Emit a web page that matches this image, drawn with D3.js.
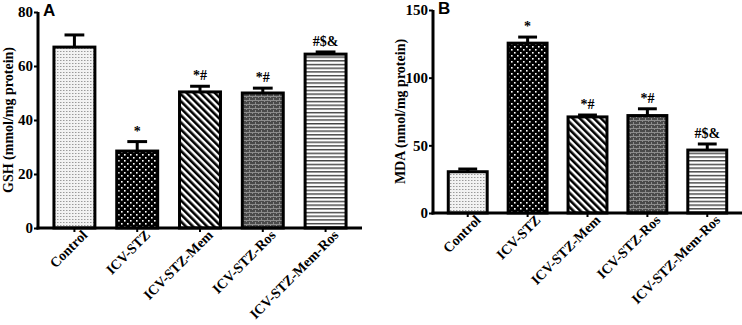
<!DOCTYPE html>
<html>
<head>
<meta charset="utf-8">
<script src="https://cdn.jsdelivr.net/npm/d3@7"></script>
<style>
  body { margin: 0; background: #fff; }
  svg { display: block; }
  text { font-family: "Liberation Serif", "Times New Roman", serif; font-weight: bold; }
</style>
</head>
<body>
<svg id="chart" width="742" height="325"></svg>
<script>
// groups and values
var groups = ["Control", "ICV-STZ", "ICV-STZ-Mem", "ICV-STZ-Ros", "ICV-STZ-Mem-Ros"];
var gshMean = [67, 28.5, 50.4, 50, 64.4];
var gshErr = [4.5, 3.5, 2.1, 1.8, 0.8];
var gshSig = ["", "*", "*#", "*#", "#$&"];
var mdaMean = [30.5, 125.5, 71, 72, 46.5];
var mdaErr = [2, 4.5, 1.4, 5, 4.5];
var mdaSig = ["", "*", "*#", "*#", "#$&"];
var gshTicks = [0, 20, 40, 60, 80];
var mdaTicks = [0, 50, 100, 150];

var svg = d3.select("#chart");
var defs = svg.append("defs");

// fill patterns, one per group
function pat(id, w, h) {
    return defs.append("pattern").attr("id", id)
        .attr("patternUnits", "userSpaceOnUse")
        .attr("width", w).attr("height", h);
}
var p0 = pat("p0", 3, 3);
p0.append("rect").attr("width", 3).attr("height", 3).attr("fill", "#f2f2f2");
p0.append("rect").attr("width", 1).attr("height", 1).attr("fill", "#9a9a9a");
p0.append("rect").attr("x", 1).attr("width", 1).attr("height", 1).attr("fill", "#c8c8c8");

var p1 = pat("p1", 6, 6);
p1.append("rect").attr("width", 6).attr("height", 6).attr("fill", "#000");
p1.append("rect").attr("x", 1).attr("y", 1).attr("width", 1.6).attr("height", 1.6).attr("fill", "#fff");
p1.append("rect").attr("x", 4).attr("y", 4).attr("width", 1.6).attr("height", 1.6).attr("fill", "#fff");

var p2 = pat("p2", 5, 5).attr("patternTransform", "rotate(-45)");
p2.append("rect").attr("width", 5).attr("height", 5).attr("fill", "#fff");
p2.append("rect").attr("width", 2.6).attr("height", 5).attr("fill", "#000");

var p3 = pat("p3", 6, 4);
p3.append("rect").attr("width", 6).attr("height", 4).attr("fill", "#4a4a4a");
p3.append("rect").attr("y", 0).attr("width", 6).attr("height", 1).attr("fill", "#8c8c8c");
p3.append("rect").attr("x", 0).attr("width", 1).attr("height", 2).attr("fill", "#8c8c8c");
p3.append("rect").attr("x", 3).attr("y", 2).attr("width", 1).attr("height", 2).attr("fill", "#8c8c8c");

var p4 = pat("p4", 4, 3.7);
p4.append("rect").attr("width", 4).attr("height", 3.7).attr("fill", "#fff");
p4.append("rect").attr("y", 1).attr("width", 4).attr("height", 1.3).attr("fill", "#333");

var fills = ["url(#p0)", "url(#p1)", "url(#p2)", "url(#p3)", "url(#p4)"];

function panel(opt) {
    var g = svg.append("g");
    var y = d3.scaleLinear().domain([0, opt.max]).range([opt.bottom, opt.top]);
    var x = d3.scaleBand().domain(groups).range([opt.left, opt.right])
        .paddingInner(0.3).paddingOuter(0.23);

    // bars
    g.selectAll("rect.bar").data(groups).enter().append("rect")
        .attr("class", "bar")
        .attr("x", function (d) { return x(d) + 1.5; })
        .attr("width", x.bandwidth() - 3)
        .attr("y", function (d, i) { return y(opt.mean[i]); })
        .attr("height", function (d, i) { return opt.bottom - y(opt.mean[i]); })
        .attr("fill", function (d, i) { return fills[i]; })
        .attr("stroke", "#000").attr("stroke-width", 3);

    // error bars (upper only)
    var cap = x.bandwidth() * 0.45;
    groups.forEach(function (d, i) {
        var cx = x(d) + x.bandwidth() / 2;
        var top = y(opt.mean[i] + opt.err[i]);
        g.append("line").attr("x1", cx).attr("x2", cx)
            .attr("y1", y(opt.mean[i])).attr("y2", top)
            .attr("stroke", "#000").attr("stroke-width", 3);
        g.append("line").attr("x1", cx - cap / 2).attr("x2", cx + cap / 2)
            .attr("y1", top).attr("y2", top)
            .attr("stroke", "#000").attr("stroke-width", 3);
        if (opt.sig[i]) {
            g.append("text").attr("x", cx).attr("y", top - 6)
                .attr("text-anchor", "middle")
                .style("font-size", "14px")
                .text(opt.sig[i]);
        }
    });

    // axes
    var yAxis = g.append("g")
        .attr("transform", "translate(" + opt.left + ",0)")
        .call(d3.axisLeft(y).tickValues(opt.ticks).tickSize(4).tickPadding(1));
    yAxis.selectAll("text").style("font-size", "15px")
        .style("font-family", "Liberation Serif, serif").style("font-weight", "bold");
    yAxis.select(".domain").attr("stroke-width", 3).attr("d", "M0," + (opt.bottom + 1.5) + "V" + opt.top);
    yAxis.selectAll(".tick line").attr("stroke-width", 2);

    var xAxis = g.append("g")
        .attr("transform", "translate(0," + opt.bottom + ")")
        .call(d3.axisBottom(x).tickSize(4).tickPadding(3));
    xAxis.select(".domain").attr("stroke-width", 3).attr("d", "M" + (opt.left - 1.5) + ",0H" + opt.right);
    xAxis.selectAll(".tick line").attr("stroke-width", 2);
    xAxis.selectAll("text")
        .style("font-size", "14px")
        .style("font-family", "Liberation Serif, serif").style("font-weight", "bold")
        .style("text-anchor", "end")
        .attr("dx", "0.3em").attr("dy", "0.6em")
        .attr("transform", "rotate(-45)");

    // y title
    g.append("text")
        .attr("transform", "translate(" + opt.titleX + "," + ((opt.top + opt.bottom) / 2) + ") rotate(-90)")
        .attr("text-anchor", "middle")
        .style("font-size", "14px")
        .text(opt.title);

    // panel letter
    g.append("text").attr("x", opt.left + 5).attr("y", opt.top + 4)
        .style("font-family", "Liberation Sans, Arial, sans-serif")
        .style("font-size", "17px")
        .text(opt.letter);
}

panel({ left: 38, right: 362, top: 12, bottom: 228, max: 80, ticks: gshTicks,
        mean: gshMean, err: gshErr, sig: gshSig, title: "GSH (mmol/mg protein)", titleX: 13, letter: "A" });
panel({ left: 433, right: 742, top: 10, bottom: 213, max: 150, ticks: mdaTicks,
        mean: mdaMean, err: mdaErr, sig: mdaSig, title: "MDA (nmol/mg protein)", titleX: 405, letter: "B" });
</script>
</body>
</html>
